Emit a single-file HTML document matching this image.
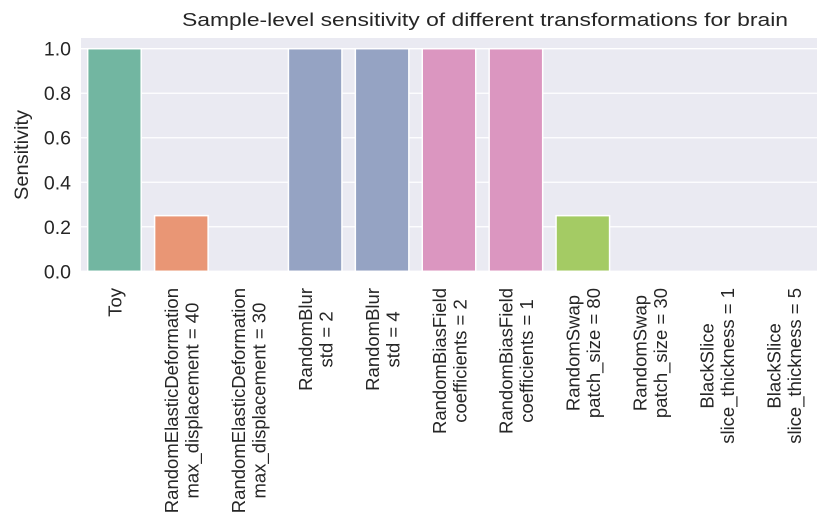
<!DOCTYPE html>
<html><head><meta charset="utf-8"><style>
html,body{margin:0;padding:0;background:#fff;}
svg{display:block;font-family:"Liberation Sans",Arial,sans-serif;}
</style></head><body>
<svg id="chart" width="830" height="526">
<rect x="81" y="38" width="736" height="234" fill="#eaeaf2"/>
<g id="grid"></g><g id="bars"></g><g id="yticks"></g><g id="xticks"></g>
<text x="485" y="26" font-size="18.5" text-anchor="middle" fill="#262626" textLength="606" lengthAdjust="spacingAndGlyphs">Sample-level sensitivity of different transformations for brain</text>
<text transform="translate(28,155) rotate(-90)" font-size="19.5" text-anchor="middle" fill="#262626" textLength="90" lengthAdjust="spacingAndGlyphs">Sensitivity</text>
</svg>
<script>
const categories=[["Toy"],["RandomElasticDeformation","max_displacement = 40"],["RandomElasticDeformation","max_displacement = 30"],["RandomBlur","std = 2"],["RandomBlur","std = 4"],["RandomBiasField","coefficients = 2"],["RandomBiasField","coefficients = 1"],["RandomSwap","patch_size = 80"],["RandomSwap","patch_size = 30"],["BlackSlice","slice_thickness = 1"],["BlackSlice","slice_thickness = 5"]];
const values=[1.0,0.25,0,1.0,1.0,1.0,1.0,0.25,0,0,0];
const colors=["#72b6a1","#e99675","#e99675","#95a3c3","#95a3c3","#db96c0","#db96c0","#a4cb64","#a4cb64","#e5c94f","#e5c94f"];
const yTicks=[0,0.2,0.4,0.6,0.8,1.0];
const yTickLabels=["0.0","0.2","0.4","0.6","0.8","1.0"];
const NS="http://www.w3.org/2000/svg";
const X0=81,X1=817,Y0=271.3,Y1=48.7;
const slot=(X1-X0)/categories.length;
function xc(i){return X0+slot*(i+0.5);}
function y(v){return Y0+(Y1-Y0)*v;}
function mk(t,a,p){const e=document.createElementNS(NS,t);for(const k in a)e.setAttribute(k,a[k]);p.appendChild(e);return e;}
const grid=document.getElementById('grid'),bars=document.getElementById('bars'),yt=document.getElementById('yticks'),xt=document.getElementById('xticks');
yTicks.forEach((v,i)=>{
 const l=mk('line',{x1:X0,x2:X1,y1:y(v),y2:y(v),stroke:'#fff','stroke-width':1.3},grid);
 
 
 const t=mk('text',{x:71,y:y(v)+7,'font-size':19.5,'text-anchor':'end',fill:'#262626'},yt);
 t.textContent=yTickLabels[i];
 
 
});
const bw=slot*0.8;
values.forEach((v,i)=>{
 if(v<=0)return;
 const r=mk('rect',{x:xc(i)-bw/2,y:y(v),width:bw,height:Y0-y(v),fill:colors[i],stroke:'#fff','stroke-width':1.5},bars);
 
 
});
categories.forEach((lines,i)=>{
 const g=mk('g',{transform:`translate(${xc(i)},288) rotate(-90)`},xt);
 
 
 const els=lines.map(s=>{const t=mk('text',{'font-size':18.5,fill:'#262626','text-anchor':'middle'},g);t.textContent=s;return t;});
 let mw=0;els.forEach(e=>{mw=Math.max(mw,e.getComputedTextLength());});
 const n=lines.length,ls=20.5;
 els.forEach((e,k)=>{e.setAttribute('x',-mw/2);e.setAttribute('y',(k-(n-1)/2)*ls+7);});
});
</script>
</body></html>
